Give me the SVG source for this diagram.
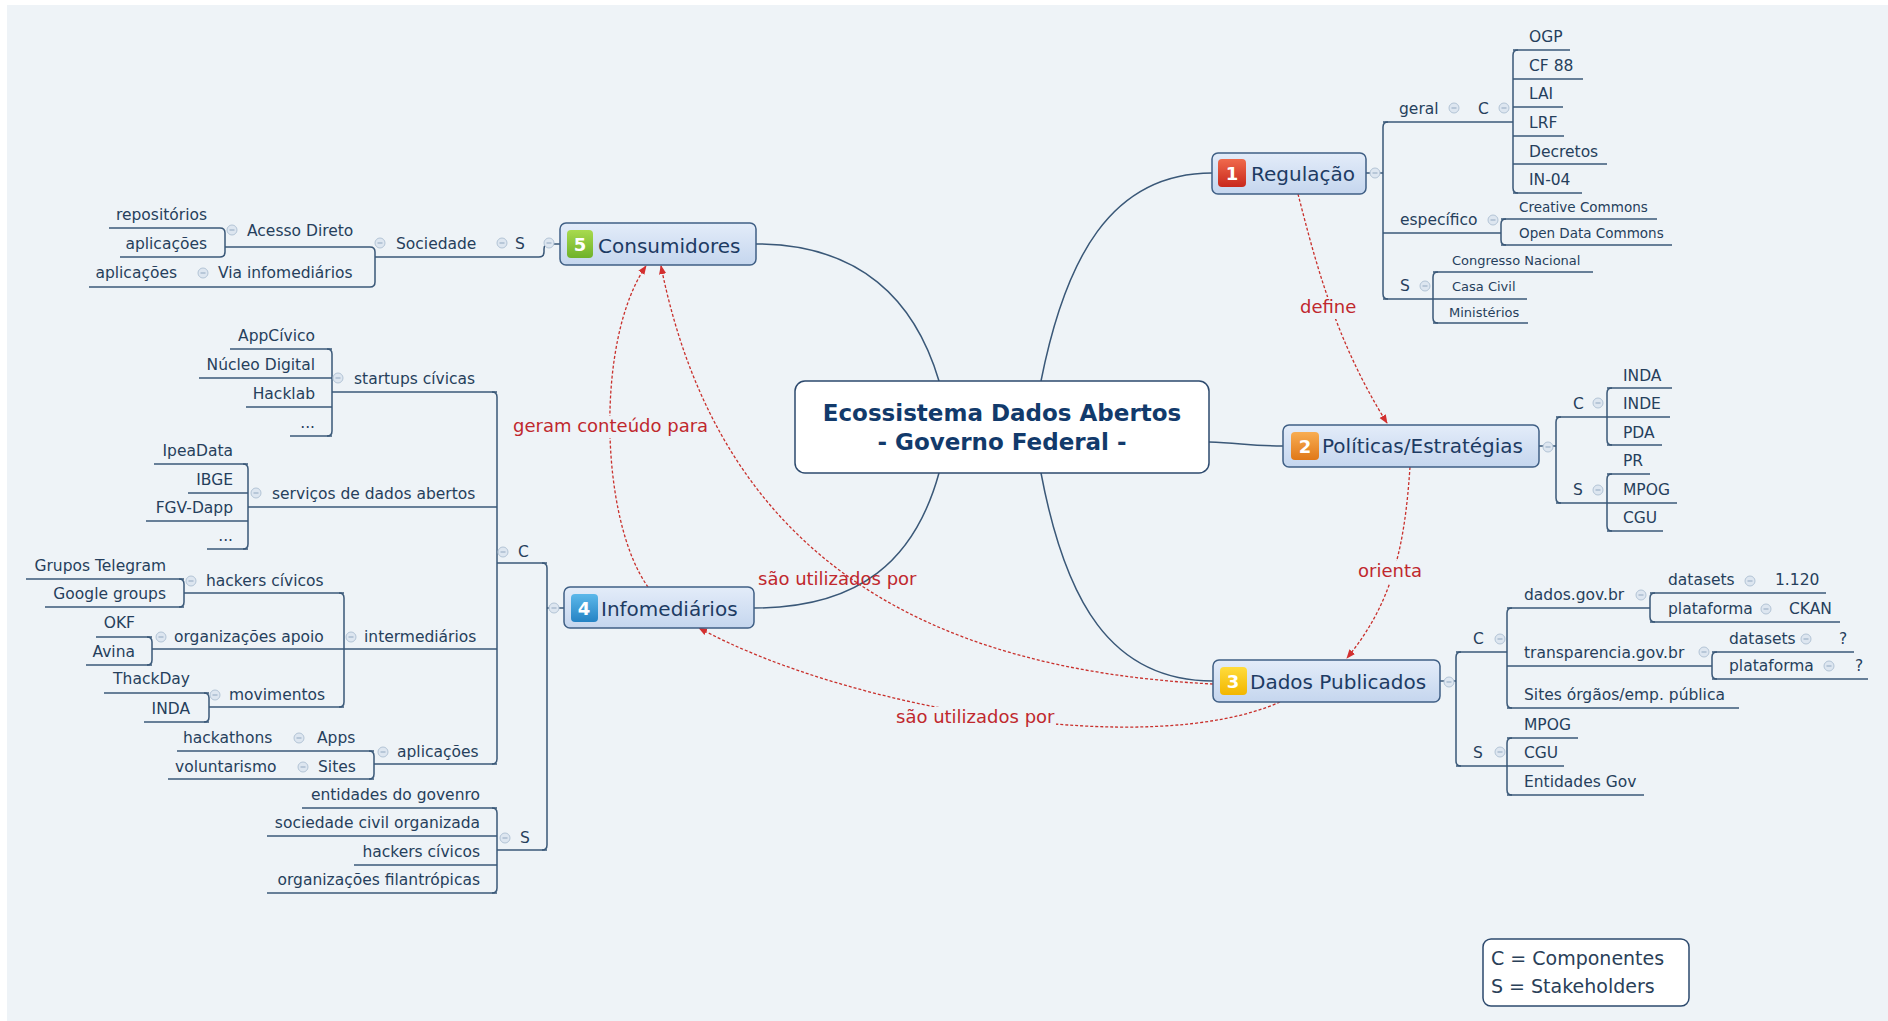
<svg xmlns="http://www.w3.org/2000/svg" xmlns:xlink="http://www.w3.org/1999/xlink" width="1888" height="1021" viewBox="0 0 1888 1021">
<defs>
<style>
.t{font-family:"DejaVu Sans",Verdana,sans-serif;font-size:15.5px;fill:#263f5c}
.s{font-size:13px}
.e{text-anchor:end}
.l{fill:none;stroke:#3a5878;stroke-width:1.5}
.mc{fill:none;stroke:#3a5878;stroke-width:1.5}
.mt{font-family:"DejaVu Sans",Verdana,sans-serif;font-size:20px;fill:#1d3b63}
.box{fill:url(#gb);stroke:#3f5f85;stroke-width:1.5}
.num{font-family:"DejaVu Sans",Verdana,sans-serif;font-size:18px;font-weight:bold;fill:#fff;text-anchor:middle}
.rel{fill:none;stroke:#c9302c;stroke-width:1.3;stroke-dasharray:3 2;marker-end:url(#ah)}
.rl{font-family:"DejaVu Sans",Verdana,sans-serif;font-size:18px;fill:#c0282d}
.mask{fill:#eef3f7}
.ct{font-family:"DejaVu Sans",Verdana,sans-serif;font-size:23px;font-weight:bold;fill:#123a6b;text-anchor:middle}
.lg{font-family:"DejaVu Sans",Verdana,sans-serif;font-size:19px;fill:#2a4058}
</style>
<linearGradient id="gb" x1="0" y1="0" x2="0" y2="1"><stop offset="0" stop-color="#e3ecf9"/><stop offset="1" stop-color="#c5d6ee"/></linearGradient>
<linearGradient id="gr" x1="0" y1="0" x2="0" y2="1"><stop offset="0" stop-color="#f06a4c"/><stop offset="1" stop-color="#c8281c"/></linearGradient>
<linearGradient id="go" x1="0" y1="0" x2="0" y2="1"><stop offset="0" stop-color="#f8ad52"/><stop offset="1" stop-color="#e07818"/></linearGradient>
<linearGradient id="gy" x1="0" y1="0" x2="0" y2="1"><stop offset="0" stop-color="#ffdc3c"/><stop offset="1" stop-color="#f2b600"/></linearGradient>
<linearGradient id="gu" x1="0" y1="0" x2="0" y2="1"><stop offset="0" stop-color="#5cb8ea"/><stop offset="1" stop-color="#2583c4"/></linearGradient>
<linearGradient id="gg" x1="0" y1="0" x2="0" y2="1"><stop offset="0" stop-color="#a8da4e"/><stop offset="1" stop-color="#6fb22a"/></linearGradient>
<marker id="ah" viewBox="0 0 10 10" refX="9" refY="5" markerWidth="7" markerHeight="7" orient="auto"><path d="M0,1 L10,5 L0,9 z" fill="#d32f2f"/></marker>
<g id="cc"><circle r="5" fill="#dde6f0" stroke="#b3c4d6" stroke-width="1"/><line x1="-2.5" y1="0" x2="2.5" y2="0" stroke="#9fb3c8" stroke-width="1.2"/></g>
</defs>
<rect x="0" y="0" width="1888" height="1021" fill="#ffffff"/>
<rect x="7" y="5" width="1881" height="1016" fill="#eef3f7"/>

<g id="connectors">
<path class="mc" d="M1041,381 C1065,260 1110,173 1212,173"/>
<path class="mc" d="M939,381 C915,300 860,244 756,244"/>
<path class="mc" d="M939,473 C915,560 860,608 754,608"/>
<path class="mc" d="M1041,473 C1065,600 1110,681 1213,681"/>
<path class="mc" d="M1209,442 C1240,443 1250,446 1283,446"/>
<path class="l" d="M1366,173 H1383"/>
<path class="l" d="M1388,122 Q1383,122 1383,127 V294 Q1383,299 1388,299"/>
<path class="l" d="M1518,50 Q1513,50 1513,55 V188 Q1513,193 1518,193"/>
<path class="l" d="M1506,219 Q1501,219 1501,224 V240 Q1501,245 1506,245"/>
<path class="l" d="M1438,272 Q1433,272 1433,277 V318 Q1433,323 1438,323"/>
<path class="l" d="M1539,446 H1556"/>
<path class="l" d="M1561,417 Q1556,417 1556,422 V498 Q1556,503 1561,503"/>
<path class="l" d="M1612,388 Q1607,388 1607,393 V440 Q1607,445 1612,445"/>
<path class="l" d="M1612,474 Q1607,474 1607,479 V526 Q1607,531 1612,531"/>
<path class="l" d="M1440,681 H1456"/>
<path class="l" d="M1461,652 Q1456,652 1456,657 V761 Q1456,766 1461,766"/>
<path class="l" d="M1512,608 Q1507,608 1507,613 V703 Q1507,708 1512,708"/>
<path class="l" d="M1655,593 Q1650,593 1650,598 V617 Q1650,622 1655,622"/>
<path class="l" d="M1717,652 Q1712,652 1712,657 V674 Q1712,679 1717,679"/>
<path class="l" d="M1512,738 Q1507,738 1507,743 V790 Q1507,795 1512,795"/>
<path class="l" d="M560,244 H549 Q544,244 544,249 V252 Q544,257 539,257 H375"/>
<path class="l" d="M370,247 Q375,247 375,252 V282 Q375,287 370,287"/>
<path class="l" d="M220,228 Q225,228 225,233 V252 Q225,257 220,257"/>
<path class="l" d="M564,608 H547"/>
<path class="l" d="M542,563 Q547,563 547,568 V845 Q547,850 542,850"/>
<path class="l" d="M492,392 Q497,392 497,397 V759 Q497,764 492,764"/>
<path class="l" d="M327,349 Q332,349 332,354 V431 Q332,436 327,436"/>
<path class="l" d="M243,464 Q248,464 248,469 V544 Q248,549 243,549"/>
<path class="l" d="M339,593 Q344,593 344,598 V702 Q344,707 339,707"/>
<path class="l" d="M179,579 Q184,579 184,584 V602 Q184,607 179,607"/>
<path class="l" d="M147,637 Q152,637 152,642 V660 Q152,665 147,665"/>
<path class="l" d="M204,693 Q209,693 209,698 V717 Q209,722 204,722"/>
<path class="l" d="M369,751 Q374,751 374,756 V774 Q374,779 369,779"/>
<path class="l" d="M492,808 Q497,808 497,813 V888 Q497,893 492,893"/>
<path class="rel" d="M1298,194 C1315,260 1335,340 1387,423"/>
<path class="rel" d="M1410,467 C1405,540 1395,600 1347,658"/>
<path class="rel" d="M648,587 C600,520 595,340 646,266"/>
<path class="rel" d="M1213,684 C930,670 720,560 661,266"/>
<path class="rel" d="M1280,702 C1150,760 850,710 699,628"/>
<rect class="mask" x="1298" y="297" width="62" height="22"/>
<rect class="mask" x="1356" y="561" width="68" height="22"/>
<rect class="mask" x="511" y="416" width="200" height="22"/>
<rect class="mask" x="894" y="707" width="162" height="22"/>
<text class="rl" x="1300" y="313">define</text>
<text class="rl" x="1358" y="577">orienta</text>
<text class="rl" x="513" y="432">geram conteúdo para</text>
<text class="rl" x="758" y="585">são utilizados por</text>
<text class="rl" x="896" y="723">são utilizados por</text>
</g>

<g id="central">
<rect x="795" y="381" width="414" height="92" rx="10" fill="#ffffff" stroke="#2d4a6e" stroke-width="1.5"/>
<text class="ct" x="1002" y="421">Ecossistema Dados Abertos</text>
<text class="ct" x="1002" y="450">- Governo Federal -</text>
</g>

<g id="regulacao">
<rect class="box" x="1212" y="153" width="154" height="41" rx="6"/>
<rect x="1218" y="159" width="28" height="28" rx="4" fill="url(#gr)"/>
<text class="num" x="1232" y="180">1</text>
<text class="mt" x="1251" y="181">Regulação</text>
<use href="#cc" x="1375" y="173"/>
</g>
<g id="reg-geral"><text class="t" x="1399" y="114">geral</text><path class="l" d="M1383,122 H1462"/><use href="#cc" x="1454" y="108"/></g>
<g id="reg-geral-c"><text class="t" x="1478" y="114">C</text><path class="l" d="M1462,122 H1513"/><use href="#cc" x="1504" y="108"/></g>
<g id="reg-ogp"><text class="t" x="1529" y="42">OGP</text><path class="l" d="M1513,50 H1570"/></g>
<g id="reg-cf88"><text class="t" x="1529" y="71">CF 88</text><path class="l" d="M1513,79 H1583"/></g>
<g id="reg-lai"><text class="t" x="1529" y="99">LAI</text><path class="l" d="M1513,107 H1563"/></g>
<g id="reg-lrf"><text class="t" x="1529" y="128">LRF</text><path class="l" d="M1513,136 H1564"/></g>
<g id="reg-decretos"><text class="t" x="1529" y="157">Decretos</text><path class="l" d="M1513,164 H1607"/></g>
<g id="reg-in04"><text class="t" x="1529" y="185">IN-04</text><path class="l" d="M1513,193 H1582"/></g>
<g id="reg-especifico"><text class="t" x="1400" y="225">específico</text><path class="l" d="M1383,233 H1501"/><use href="#cc" x="1493" y="220"/></g>
<g id="reg-cc"><text class="t" x="1519" y="212" style="font-size:13.5px">Creative Commons</text><path class="l" d="M1501,219 H1657"/></g>
<g id="reg-odc"><text class="t" x="1519" y="238" style="font-size:13.5px">Open Data Commons</text><path class="l" d="M1501,245 H1672"/></g>
<g id="reg-s"><text class="t" x="1400" y="291">S</text><path class="l" d="M1383,299 H1433"/><use href="#cc" x="1425" y="286"/></g>
<g id="reg-congresso"><text class="t s" x="1452" y="265">Congresso Nacional</text><path class="l" d="M1433,272 H1593"/></g>
<g id="reg-casacivil"><text class="t s" x="1452" y="291">Casa Civil</text><path class="l" d="M1433,299 H1527"/></g>
<g id="reg-ministerios"><text class="t s" x="1449" y="317">Ministérios</text><path class="l" d="M1433,323 H1528"/></g>

<g id="politicas">
<rect class="box" x="1283" y="425" width="256" height="42" rx="6"/>
<rect x="1291" y="432" width="28" height="28" rx="4" fill="url(#go)"/>
<text class="num" x="1305" y="453">2</text>
<text class="mt" x="1322" y="453">Políticas/Estratégias</text>
<use href="#cc" x="1548" y="447"/>
</g>
<g id="pol-c"><text class="t" x="1573" y="409">C</text><path class="l" d="M1556,417 H1607"/><use href="#cc" x="1598" y="403"/></g>
<g id="pol-inda"><text class="t" x="1623" y="381">INDA</text><path class="l" d="M1607,388 H1672"/></g>
<g id="pol-inde"><text class="t" x="1623" y="409">INDE</text><path class="l" d="M1607,417 H1670"/></g>
<g id="pol-pda"><text class="t" x="1623" y="438">PDA</text><path class="l" d="M1607,445 H1662"/></g>
<g id="pol-s"><text class="t" x="1573" y="495">S</text><path class="l" d="M1556,503 H1607"/><use href="#cc" x="1598" y="490"/></g>
<g id="pol-pr"><text class="t" x="1623" y="466">PR</text><path class="l" d="M1607,474 H1650"/></g>
<g id="pol-mpog"><text class="t" x="1623" y="495">MPOG</text><path class="l" d="M1607,503 H1677"/></g>
<g id="pol-cgu"><text class="t" x="1623" y="523">CGU</text><path class="l" d="M1607,531 H1663"/></g>

<g id="dados">
<rect class="box" x="1213" y="660" width="227" height="42" rx="6"/>
<rect x="1220" y="667" width="27" height="28" rx="4" fill="url(#gy)"/>
<text class="num" x="1233" y="688">3</text>
<text class="mt" x="1250" y="689">Dados Publicados</text>
<use href="#cc" x="1449" y="682"/>
</g>
<g id="dp-c"><text class="t" x="1473" y="644">C</text><path class="l" d="M1456,652 H1507"/><use href="#cc" x="1500" y="639"/></g>
<g id="dp-dadosgov"><text class="t" x="1524" y="600">dados.gov.br</text><path class="l" d="M1507,608 H1650"/><use href="#cc" x="1641" y="595"/></g>
<g id="dp-dg-datasets"><text class="t" x="1668" y="585">datasets</text><use href="#cc" x="1750" y="581"/><text class="t" x="1775" y="585">1.120</text><path class="l" d="M1650,593 H1826"/></g>
<g id="dp-dg-plataforma"><text class="t" x="1668" y="614">plataforma</text><use href="#cc" x="1766" y="609"/><text class="t" x="1789" y="614">CKAN</text><path class="l" d="M1650,622 H1840"/></g>
<g id="dp-transp"><text class="t" x="1524" y="658">transparencia.gov.br</text><path class="l" d="M1507,666 H1712"/><use href="#cc" x="1704" y="652"/></g>
<g id="dp-tr-datasets"><text class="t" x="1729" y="644">datasets</text><use href="#cc" x="1806" y="639"/><text class="t" x="1839" y="644">?</text><path class="l" d="M1712,652 H1854"/></g>
<g id="dp-tr-plataforma"><text class="t" x="1729" y="671">plataforma</text><use href="#cc" x="1829" y="666"/><text class="t" x="1855" y="671">?</text><path class="l" d="M1712,679 H1868"/></g>
<g id="dp-sites"><text class="t" x="1524" y="700">Sites órgãos/emp. pública</text><path class="l" d="M1507,708 H1739"/></g>
<g id="dp-s"><text class="t" x="1473" y="758">S</text><path class="l" d="M1456,766 H1507"/><use href="#cc" x="1500" y="752"/></g>
<g id="dp-mpog"><text class="t" x="1524" y="730">MPOG</text><path class="l" d="M1507,738 H1578"/></g>
<g id="dp-cgu"><text class="t" x="1524" y="758">CGU</text><path class="l" d="M1507,766 H1564"/></g>
<g id="dp-entidades"><text class="t" x="1524" y="787">Entidades Gov</text><path class="l" d="M1507,795 H1644"/></g>

<g id="consumidores">
<rect class="box" x="560" y="223" width="196" height="42" rx="6"/>
<rect x="567" y="230" width="26" height="28" rx="4" fill="url(#gg)"/>
<text class="num" x="580" y="251">5</text>
<text class="mt" x="598" y="253">Consumidores</text>
<use href="#cc" x="549" y="243"/>
</g>
<g id="co-s"><text class="t" x="515" y="249">S</text><use href="#cc" x="502" y="243"/></g>
<g id="co-sociedade"><text class="t" x="396" y="249">Sociedade</text><use href="#cc" x="380" y="243"/></g>
<g id="co-acesso"><text class="t" x="247" y="236">Acesso Direto</text><use href="#cc" x="232" y="230"/><path class="l" d="M225,247 H370"/></g>
<g id="co-repositorios"><text class="t e" x="207" y="220">repositórios</text><path class="l" d="M109,228 H220"/></g>
<g id="co-aplicacoes1"><text class="t e" x="207" y="249">aplicações</text><path class="l" d="M120,257 H220"/></g>
<g id="co-via"><text class="t" x="218" y="278">Via infomediários</text><use href="#cc" x="203" y="273"/><text class="t e" x="177" y="278">aplicações</text><path class="l" d="M89,287 H370"/></g>

<g id="infomediarios">
<rect class="box" x="564" y="587" width="190" height="41" rx="6"/>
<rect x="571" y="594" width="27" height="28" rx="4" fill="url(#gu)"/>
<text class="num" x="584" y="615">4</text>
<text class="mt" x="601" y="616">Infomediários</text>
<use href="#cc" x="554" y="608"/>
</g>
<g id="in-c"><text class="t" x="518" y="557">C</text><use href="#cc" x="503" y="552"/><path class="l" d="M497,563 H547"/></g>
<g id="in-startups"><text class="t" x="354" y="384">startups cívicas</text><use href="#cc" x="338" y="378"/><path class="l" d="M332,392 H497"/></g>
<g id="in-appcivico"><text class="t e" x="315" y="341">AppCívico</text><path class="l" d="M230,349 H332"/></g>
<g id="in-nucleo"><text class="t e" x="315" y="370">Núcleo Digital</text><path class="l" d="M199,378 H332"/></g>
<g id="in-hacklab"><text class="t e" x="315" y="399">Hacklab</text><path class="l" d="M246,407 H332"/></g>
<g id="in-st-etc"><text class="t e" x="315" y="428">...</text><path class="l" d="M290,436 H332"/></g>
<g id="in-servicos"><text class="t" x="272" y="499">serviços de dados abertos</text><use href="#cc" x="256" y="493"/><path class="l" d="M248,507 H497"/></g>
<g id="in-ipea"><text class="t e" x="233" y="456">IpeaData</text><path class="l" d="M154,464 H248"/></g>
<g id="in-ibge"><text class="t e" x="233" y="485">IBGE</text><path class="l" d="M188,493 H248"/></g>
<g id="in-fgv"><text class="t e" x="233" y="513">FGV-Dapp</text><path class="l" d="M146,521 H248"/></g>
<g id="in-sv-etc"><text class="t e" x="233" y="541">...</text><path class="l" d="M207,549 H248"/></g>
<g id="in-intermediarios"><text class="t" x="364" y="642">intermediários</text><use href="#cc" x="351" y="637"/><path class="l" d="M344,649 H497"/></g>
<g id="in-hackers"><text class="t" x="206" y="586">hackers cívicos</text><use href="#cc" x="191" y="581"/><path class="l" d="M184,593 H344"/></g>
<g id="in-telegram"><text class="t e" x="166" y="571">Grupos Telegram</text><path class="l" d="M26,579 H184"/></g>
<g id="in-google"><text class="t e" x="166" y="599">Google groups</text><path class="l" d="M45,607 H184"/></g>
<g id="in-orgapoio"><text class="t" x="174" y="642">organizações apoio</text><use href="#cc" x="161" y="637"/><path class="l" d="M152,649 H344"/></g>
<g id="in-okf"><text class="t e" x="135" y="628">OKF</text><path class="l" d="M96,637 H152"/></g>
<g id="in-avina"><text class="t e" x="135" y="657">Avina</text><path class="l" d="M86,665 H152"/></g>
<g id="in-movimentos"><text class="t" x="229" y="700">movimentos</text><use href="#cc" x="215" y="695"/><path class="l" d="M209,707 H344"/></g>
<g id="in-thackday"><text class="t e" x="190" y="684">ThackDay</text><path class="l" d="M104,693 H209"/></g>
<g id="in-inda"><text class="t e" x="190" y="714">INDA</text><path class="l" d="M144,722 H209"/></g>
<g id="in-aplicacoes"><text class="t" x="397" y="757">aplicações</text><use href="#cc" x="383" y="752"/><path class="l" d="M374,764 H497"/></g>
<g id="in-apps"><text class="t" x="317" y="743">Apps</text><use href="#cc" x="299" y="738"/><text class="t" x="183" y="743">hackathons</text><path class="l" d="M177,751 H374"/></g>
<g id="in-sites"><text class="t" x="318" y="772">Sites</text><use href="#cc" x="303" y="767"/><text class="t" x="175" y="772">voluntarismo</text><path class="l" d="M168,779 H374"/></g>
<g id="in-s"><text class="t" x="520" y="843">S</text><use href="#cc" x="505" y="838"/><path class="l" d="M497,850 H547"/></g>
<g id="in-entidades"><text class="t e" x="480" y="800">entidades do govenro</text><path class="l" d="M302,808 H497"/></g>
<g id="in-sociedade"><text class="t e" x="480" y="828">sociedade civil organizada</text><path class="l" d="M267,836 H497"/></g>
<g id="in-hackers2"><text class="t e" x="480" y="857">hackers cívicos</text><path class="l" d="M354,865 H497"/></g>
<g id="in-filantropicas"><text class="t e" x="480" y="885">organizações filantrópicas</text><path class="l" d="M267,893 H497"/></g>

<g id="legend">
<rect x="1483" y="939" width="206" height="67" rx="8" fill="#ffffff" stroke="#2d4a6e" stroke-width="1.5"/>
<text class="lg" x="1491" y="965">C = Componentes</text>
<text class="lg" x="1491" y="993">S = Stakeholders</text>
</g>
</svg>
